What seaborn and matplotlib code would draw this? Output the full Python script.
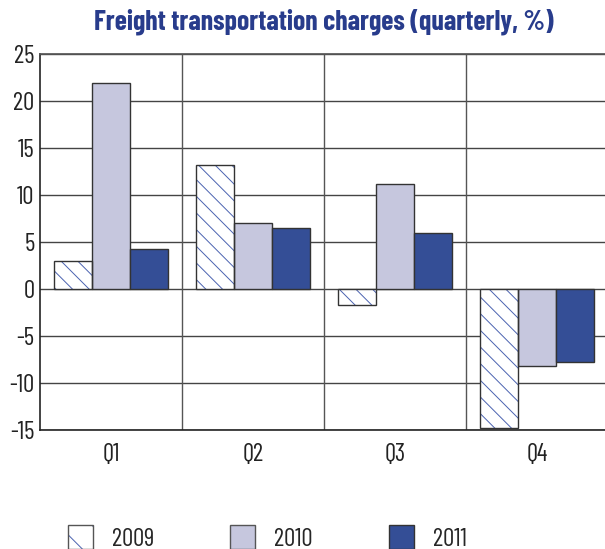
import matplotlib
matplotlib.use("Agg")
import matplotlib.pyplot as plt
import seaborn as sns
import pandas as pd
from matplotlib.patches import Patch, Rectangle

quarters = ["Q1", "Q2", "Q3", "Q4"]
years = ["2009", "2010", "2011"]
v2009 = [3.0, 13.2, -1.7, -14.8]
v2010 = [21.9, 7.0, 11.2, -8.2]
v2011 = [4.3, 6.5, 6.0, -7.8]
yticks = [-15, -10, -5, 0, 5, 10, 15, 20, 25]

colors = {"2009": "#ffffff", "2010": "#c6c7de", "2011": "#344e96"}
hatch_col = "#4a62b0"
edge_col = "#333333"
title_col = "#283c8c"

sns.set_theme(style="white")
plt.rcParams["font.family"] = ["Barlow Condensed", "Roboto Condensed", "DejaVu Sans"]
plt.rcParams["hatch.linewidth"] = 0.7

rows = []
for y, vals in zip(years, [v2009, v2010, v2011]):
    for q, v in zip(quarters, vals):
        rows.append({"quarter": q, "year": y, "value": v})
df = pd.DataFrame(rows)

fig = plt.figure(figsize=(6.05, 5.49), dpi=100)
ax = fig.add_axes([40 / 605, 119 / 549, 568 / 605, 376 / 549])

sns.barplot(data=df, x="quarter", y="value", hue="year", order=quarters,
            hue_order=years, palette=colors, width=0.8, saturation=1, ax=ax,
            edgecolor=edge_col, linewidth=1.0, legend=False, zorder=3)

n = len(quarters)
for p in ax.patches[:n]:
    p.set_hatch("\\\\")
    p.set_edgecolor(hatch_col)
    p.set_linewidth(0)
    r = Rectangle((p.get_x(), p.get_y()), p.get_width(), p.get_height(),
                  fill=False, edgecolor=edge_col, linewidth=1.0, zorder=4)
    ax.add_patch(r)

ax.set_ylim(-15, 25)
ax.set_xlim(-0.5, 3.5)
ax.set_yticks(yticks)
ax.set_yticklabels([str(t) for t in yticks])
for t in yticks:
    ax.axhline(t, color="#444444", linewidth=1.0, zorder=1)
for xv in [0.5, 1.5, 2.5]:
    ax.axvline(xv, color="#555555", linewidth=1.0, zorder=1)

ax.set_xlabel("")
ax.set_ylabel("")
for s in ["left", "bottom"]:
    ax.spines[s].set_color("#222222")
    ax.spines[s].set_linewidth(1.2)
ax.spines["top"].set_color("#555555")
ax.spines["right"].set_visible(False)
ax.tick_params(axis="both", length=0, labelsize=18, colors="#222222")
ax.tick_params(axis="y", pad=4)
ax.tick_params(axis="x", pad=9)

fig.text(324 / 605, 1 - 22 / 549, "Freight transportation charges (quarterly, %)",
         ha="center", va="center", fontsize=20, fontweight="bold", color=title_col)

h2009 = (Patch(facecolor="white", edgecolor=hatch_col, hatch="\\", linewidth=0),
         Patch(facecolor="none", edgecolor="#555555", linewidth=1.0))
h2010 = Patch(facecolor=colors["2010"], edgecolor="#555555", linewidth=1.0)
h2011 = Patch(facecolor=colors["2011"], edgecolor="#333333", linewidth=1.0)
fig.legend([h2009, h2010, h2011], years, loc="upper left", ncol=3,
           bbox_to_anchor=(68 / 605, 1 - 525 / 549), frameon=False, fontsize=18,
           borderpad=0, borderaxespad=0,
           handlelength=1.0, handleheight=1.1, handletextpad=0.75,
           columnspacing=3.05)

fig.savefig("out.png", dpi=100)
